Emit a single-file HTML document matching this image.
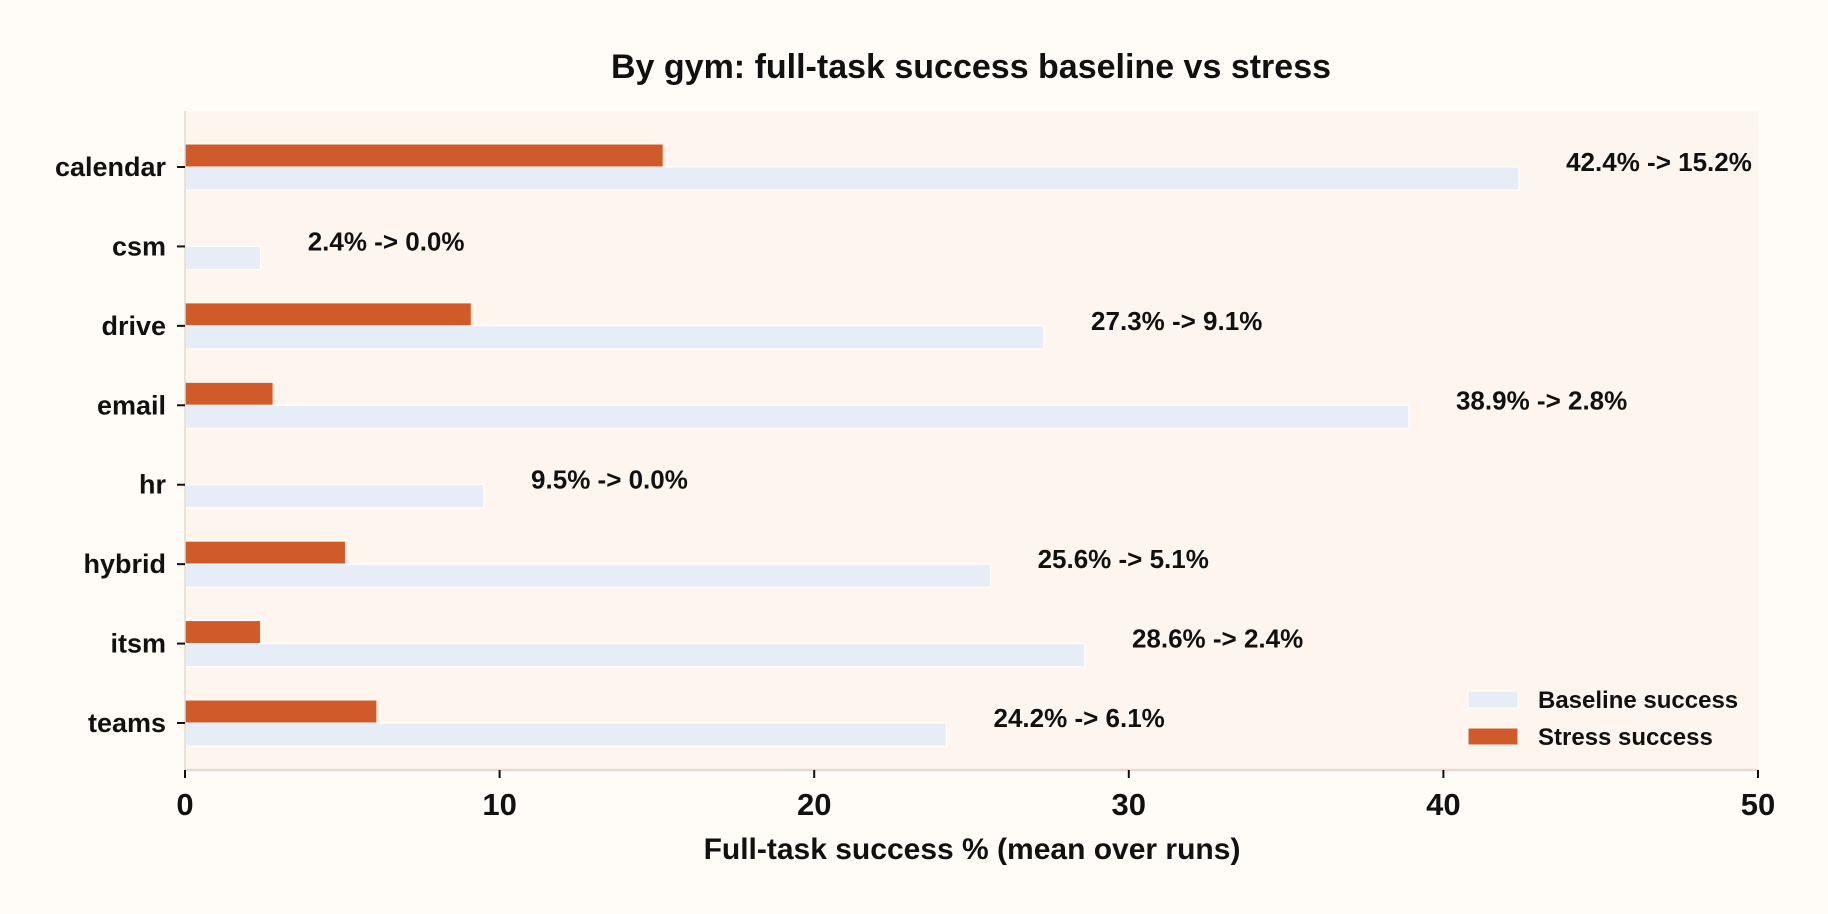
<!DOCTYPE html>
<html><head><meta charset="utf-8"><style>
html,body{margin:0;padding:0;background:#fffcf7;}
svg{display:block;font-family:"Liberation Sans",sans-serif;font-weight:bold;}
</style></head><body>
<svg id="chart" width="1828" height="914">
<rect x="0" y="0" width="1828" height="914" fill="#fffcf7"/>
<text x="971" y="78" text-anchor="middle" font-size="34" fill="#111">By gym: full-task success baseline vs stress</text>
<rect x="185" y="111" width="1573" height="659" fill="#fef6ee"/>
<g id="bars"></g>
<line x1="185" y1="111" x2="185" y2="770" stroke="#e3dccd" stroke-width="1.5"/>
<line x1="185" y1="770" x2="1758" y2="770" stroke="#e3dccd" stroke-width="2.5"/>
<g id="axes"></g>
<text x="972" y="859" text-anchor="middle" font-size="30" fill="#111">Full-task success % (mean over runs)</text>
<g>
<rect x="1468" y="691" width="50" height="17" fill="#e6edf6" stroke="#fff" stroke-width="1"/>
<text x="1538" y="708" font-size="24" fill="#111">Baseline success</text>
<rect x="1468" y="728" width="50" height="17" fill="#d05a2a" stroke="#fff" stroke-width="1"/>
<text x="1538" y="745" font-size="24" fill="#111">Stress success</text>
</g>
</svg>
<script>
const categories = ["calendar","csm","drive","email","hr","hybrid","itsm","teams"];
const baseline = [42.4,2.4,27.3,38.9,9.5,25.6,28.6,24.2];
const stress = [15.2,0.0,9.1,2.8,0.0,5.1,2.4,6.1];
const xTicks = [0,10,20,30,40,50];
const NS="http://www.w3.org/2000/svg";
const x0=185,x1=1758,xMax=50;
function xs(v){return x0+(v/xMax)*(x1-x0);}
function yc(i){return 167+i*79.43;}
const bars=document.getElementById('bars'), axes=document.getElementById('axes');
function mk(tag,attrs,parent){const e=document.createElementNS(NS,tag);for(const k in attrs)e.setAttribute(k,attrs[k]);parent.appendChild(e);return e;}
categories.forEach((c,i)=>{
  const y=yc(i);
  const s=mk('rect',{x:x0,y:y-23,width:Math.max(0,xs(stress[i])-x0),height:23,fill:'#d05a2a',stroke:'#fff','stroke-width':1},bars);
  
  
  const b=mk('rect',{x:x0,y:y,width:xs(baseline[i])-x0,height:23,fill:'#e6edf6',stroke:'#fff','stroke-width':1},bars);
  
  
  const t=mk('text',{x:xs(Math.max(baseline[i],stress[i])+1.5),y:y+4,'font-size':26,fill:'#111'},bars);
  t.textContent=baseline[i].toFixed(1)+'% -> '+stress[i].toFixed(1)+'%';
  
  
  mk('line',{x1:x0-8,x2:x0,y1:y,y2:y,stroke:'#111','stroke-width':2},axes);
  const l=mk('text',{x:x0-19,y:y+9,'text-anchor':'end','font-size':27,fill:'#111'},axes);
  l.textContent=c;
  
  
});
xTicks.forEach(v=>{
  const x=xs(v);
  mk('line',{x1:x,x2:x,y1:770,y2:778,stroke:'#111','stroke-width':2},axes);
  const t=mk('text',{x:x,y:815,'text-anchor':'middle','font-size':31,fill:'#111'},axes);
  t.textContent=v;
  
  
});
</script>
</body></html>
